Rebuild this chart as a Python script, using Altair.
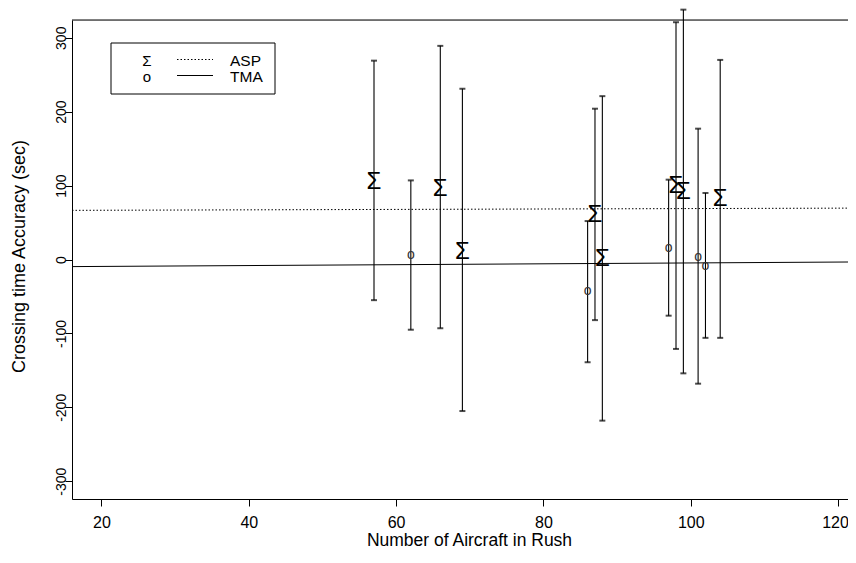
import altair as alt
import pandas as pd

# ---- data ----
# ASP runs (plotted with a Sigma symbol)
asp_x = [57, 66, 69, 87, 88, 98, 99, 104]
asp_y = [106, 97, 12, 61, 2, 101, 92, 83]
asp_lo = [-55, -93, -205, -82, -218, -121, -154, -106]
asp_hi = [269, 289, 231, 204, 221, 321, 338, 270]

# TMA runs (plotted with an "o")
tma_x = [62, 86, 97, 101, 102]
tma_y = [6, -43, 15, 4, -9]
tma_lo = [-95, -139, -76, -168, -106]
tma_hi = [107, 52, 108, 177, 90]

# fitted lines (end points over the plotted x range)
fit_x = [16, 121.35]
asp_fit = [66.5, 69.5]
tma_fit = [-9.6, -3.4]

x_ticks = [20, 40, 60, 80, 100, 120]
y_ticks = [-300, -200, -100, 0, 100, 200, 300]
legend_labels = ["ASP", "TMA"]
legend_symbols = ["Σ", "o"]

# ---- tables ----
pts = pd.DataFrame({
    "x": asp_x + tma_x,
    "y": asp_y + tma_y,
    "lo": asp_lo + tma_lo,
    "hi": asp_hi + tma_hi,
    "grp": ["ASP"] * len(asp_x) + ["TMA"] * len(tma_x),
})
caps = pd.concat([
    pts[["x", "lo"]].rename(columns={"lo": "v"}),
    pts[["x", "hi"]].rename(columns={"hi": "v"}),
])
asp_df = pts[pts.grp == "ASP"]
tma_df = pts[pts.grp == "TMA"]
fit_df = pd.DataFrame({"x": fit_x, "asp": asp_fit, "tma": tma_fit})
one = pd.DataFrame({"a": [0]})

W, H = 776, 479
FONT = "Liberation Sans"

xs = alt.Scale(domain=[16, 121.35], nice=False, zero=False)
ys = alt.Scale(domain=[-324, 324], nice=False, zero=False)

xaxis = alt.Axis(values=x_ticks, grid=False, tickSize=7, tickColor="black",
                 domainColor="black", labelColor="black", labelFontSize=16,
                 labelFont=FONT, labelPadding=8,
                 labelOffset={"condition": {"test": "datum.value == 120", "value": -3},
                              "value": 0},
                 titleFont=FONT, titleFontSize=17.5,
                 titleFontWeight="normal", titleColor="black", titleX=397,
                 titleY=50, titleBaseline="bottom", titleAlign="center",
                 labelExpr="'' + datum.value")
yaxis = alt.Axis(values=y_ticks, grid=False, tickSize=7, tickColor="black",
                 domainColor="black", labelColor="black", labelFontSize=14,
                 labelFont=FONT, labelAngle=-90, labelAlign="center",
                 labelBaseline="alphabetic", labelPadding=0, titleFont=FONT,
                 titleFontSize=18, titleFontWeight="normal", titleColor="black",
                 titleAngle=-90, titleX=-53, titleY=236, titleBaseline="middle",
                 titleAlign="center", labelExpr="'' + datum.value")

XT = "Number of Aircraft in Rush"
YT = "Crossing time Accuracy (sec)"


def X(f):
    return alt.X(f"{f}:Q", scale=xs, axis=xaxis, title=XT)


def Y(f):
    return alt.Y(f"{f}:Q", scale=ys, axis=yaxis, title=YT)


bars = alt.Chart(pts).mark_rule(color="black", strokeWidth=1.1).encode(
    x=X("x"), y=Y("lo"), y2="hi")
capm = alt.Chart(caps).mark_tick(color="black", orient="horizontal", size=6,
                                 thickness=2).encode(x=X("x"), y=Y("v"))
asp_fit_l = alt.Chart(fit_df).mark_line(color="black", strokeWidth=1,
                                        strokeDash=[1.5, 2]).encode(x=X("x"), y=Y("asp"))
tma_fit_l = alt.Chart(fit_df).mark_line(color="black", strokeWidth=1).encode(
    x=X("x"), y=Y("tma"))
sig = alt.Chart(asp_df).mark_text(text="Σ", font=FONT, fontSize=24,
                                  color="black", baseline="middle", dy=1).encode(
    x=X("x"), y=Y("y"))
circ = alt.Chart(tma_df).mark_text(text="o", font=FONT, fontSize=14, color="#333",
                                   baseline="middle").encode(x=X("x"), y=Y("y"))

# frame top line
top = alt.Chart(one).mark_rule(color="black", strokeWidth=1).encode(
    x=alt.value(0), x2=alt.value(W), y=alt.value(0))

# legend box (pixel layout inside the plot area)
lbox = alt.Chart(one).mark_rect(fillOpacity=0, stroke="black", strokeWidth=1).encode(
    x=alt.value(39), x2=alt.value(203), y=alt.value(23), y2=alt.value(74))
leg_sym1 = alt.Chart(one).mark_text(text=legend_symbols[0], font=FONT,
                                    fontSize=15, baseline="middle").encode(
    x=alt.value(75), y=alt.value(41))
leg_sym2 = alt.Chart(one).mark_text(text=legend_symbols[1], font=FONT, fontSize=15,
                                    baseline="middle").encode(
    x=alt.value(75), y=alt.value(57))
leg_l1 = alt.Chart(one).mark_rule(color="black", strokeWidth=1, strokeDash=[1.5, 2]).encode(
    x=alt.value(105), x2=alt.value(141), y=alt.value(39.5))
leg_l2 = alt.Chart(one).mark_rule(color="black", strokeWidth=1).encode(
    x=alt.value(105), x2=alt.value(141), y=alt.value(55.5))
leg_t1 = alt.Chart(one).mark_text(text=legend_labels[0], font=FONT, fontSize=15.5,
                                  align="left", baseline="middle").encode(
    x=alt.value(158), y=alt.value(41))
leg_t2 = alt.Chart(one).mark_text(text=legend_labels[1], font=FONT, fontSize=15.5,
                                  align="left", baseline="middle").encode(
    x=alt.value(158), y=alt.value(57))

chart = alt.layer(
    bars, capm, asp_fit_l, tma_fit_l, sig, circ, top,
    lbox, leg_sym1, leg_sym2, leg_l1, leg_l2, leg_t1, leg_t2,
).properties(
    width=W, height=H,
    autosize=alt.AutoSizeParams(type="none"),
    padding={"left": 64, "top": 12, "right": 0, "bottom": 52},
).configure_view(stroke=None).configure(background="white")

chart.save("out.html", embed_options={"renderer": "svg", "actions": False})
